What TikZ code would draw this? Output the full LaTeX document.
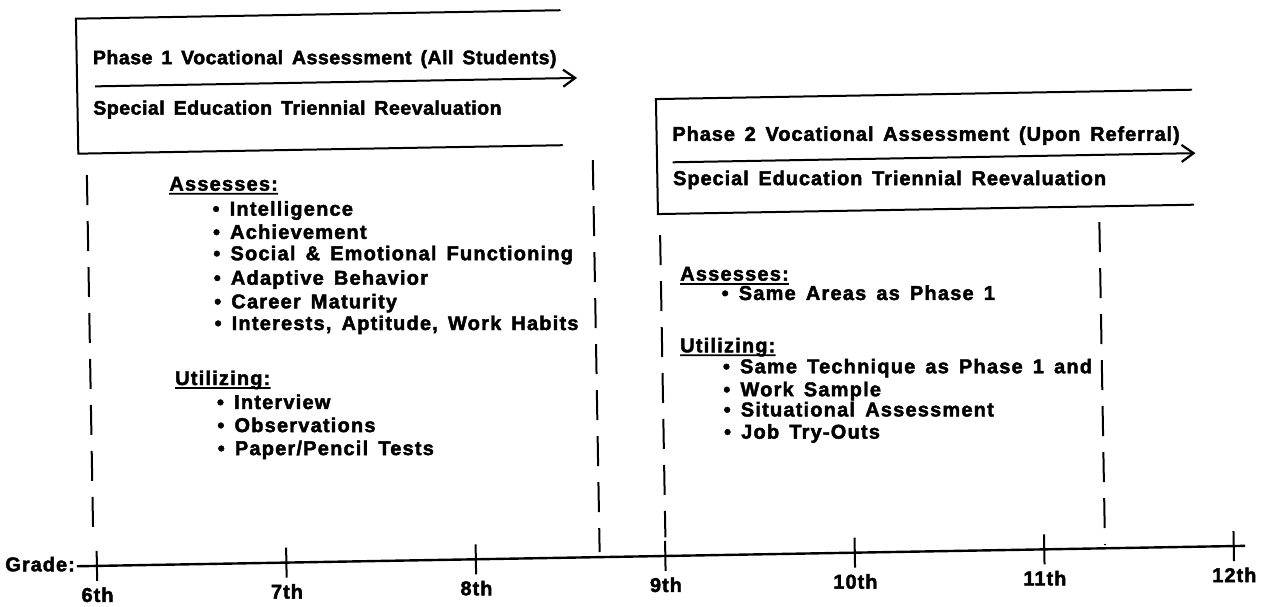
\documentclass[tikz,border=0pt]{standalone}
\usepackage{fontspec}
\setmainfont{Liberation Sans}
\newfontfamily\hdAfont{Liberation Sans Bold}[LetterSpace=2.7,WordSpace=1.5,FakeBold=2.2]
\newfontfamily\hdBfont{Liberation Sans Bold}[LetterSpace=4.6,WordSpace=1.5,FakeBold=2.2]
\newfontfamily\lstfont{Liberation Sans Bold}[LetterSpace=6,WordSpace=1.5,FakeBold=2.2]
\newfontfamily\grdfont{Liberation Sans Bold}[LetterSpace=5,FakeBold=2.2]
\usetikzlibrary{arrows.meta,calc}
\begin{document}
\begin{tikzpicture}[x=1pt,y=-1pt,
  boxline/.style={line width=2pt, line cap=round, line join=miter},
  dashline/.style={line width=2pt, dash pattern=on 30pt off 16pt},
  phasearrow/.style={line width=2pt, -{Straight Barb[length=12pt,width=17pt,line width=2.2pt]}},
  axisline/.style={line width=2.4pt},
  tickline/.style={line width=2pt},
  ulline/.style={line width=1.8pt},
  hdA/.style={anchor=base west, inner sep=0pt, text height=14pt, text depth=4pt, font={\hdAfont\fontsize{19.5}{23}\selectfont}},
  hdB/.style={anchor=base west, inner sep=0pt, text height=14pt, text depth=4pt, font={\hdBfont\fontsize{20}{24}\selectfont}},
  lst/.style={anchor=base west, inner sep=0pt, text height=14pt, text depth=4pt, font={\lstfont\fontsize{20}{23}\selectfont}},
  grd/.style={anchor=base, inner sep=0pt, text height=14pt, text depth=4pt, font={\grdfont\fontsize{20}{23}\selectfont}}
]
\useasboundingbox (0,0) rectangle (1266,606);
\fill[white] (0,0) rectangle (1266,606);
\begin{scope}[rotate around={1:(633,303)}]
  % ---------- Phase 1 box ----------
  \coordinate (b1tr) at (565,9);
  \coordinate (b1tl) at (81,9);
  \coordinate (b1bl) at (81,144);
  \coordinate (b1br) at (565,144);
  \draw[boxline] (b1tr) -- (b1tl) -- (b1bl) -- (b1br);
  \node[hdA] (p1title) at (97,54.8) {Phase 1 Vocational Assessment (All Students)};
  \coordinate (a1s) at (99,77);
  \coordinate (a1e) at (581,77);
  \draw[phasearrow] (a1s) -- (a1e);
  \node[hdA] (p1sub) at (96.5,105.2) {Special Education Triennial Reevaluation};

  % ---------- Phase 2 box ----------
  \coordinate (b2tr) at (1195,99.5);
  \coordinate (b2tl) at (659.5,99.5);
  \coordinate (b2bl) at (659.5,214.5);
  \coordinate (b2br) at (1195,214.5);
  \draw[boxline] (b2tr) -- (b2tl) -- (b2bl) -- (b2br);
  \node[hdB] (p2title) at (675,141.5) {Phase 2 Vocational Assessment (Upon Referral)};
  \coordinate (a2s) at (675,163);
  \coordinate (a2e) at (1198,163);
  \draw[phasearrow] (a2s) -- (a2e);
  \node[hdB] (p2sub) at (675,185.8) {Special Education Triennial Reevaluation};

  % ---------- dashed boundaries ----------
  \coordinate (d1t) at (89.2,165.5);   \coordinate (d1b) at (89.2,517.5);
  \coordinate (d2t) at (595.3,159.4);  \coordinate (d2b) at (595.3,551.4);
  \coordinate (d3t) at (661.3,235.5);  \coordinate (d3b) at (661.3,538);
  \coordinate (d4t) at (1100.7,230.2); \coordinate (d4b) at (1100.7,553.2);
  \draw[dashline] (d1t) -- (d1b);
  \draw[dashline] (d2t) -- (d2b);
  \draw[dashline] (d3t) -- (d3b);
  \draw[dashline] (d4t) -- (d4b);

  % ---------- Phase 1 lists ----------
  \node[lst] (as1) at (171.2,182.6) {Assesses:};
  \draw[ulline] ([yshift=-3pt]as1.base west) -- ([yshift=-3pt]as1.base east);
  \node[lst] (pa0) at (214,208.3) {\textbullet\ Intelligence};
  \node[lst] (pa1) at (214,231.5) {\textbullet\ Achievement};
  \node[lst] (pa2) at (214,252.9) {\textbullet\ Social \& Emotional Functioning};
  \node[lst] (pa3) at (214,277.4) {\textbullet\ Adaptive Behavior};
  \node[lst] (pa4) at (214,301.0) {\textbullet\ Career Maturity};
  \node[lst] (pa5) at (214,322.7) {\textbullet\ Interests, Aptitude, Work Habits};
  \node[lst] (ut1) at (173.6,377) {Utilizing:};
  \draw[ulline] ([yshift=-3pt]ut1.base west) -- ([yshift=-3pt]ut1.base east);
  \node[lst] (pu0) at (215,401.7) {\textbullet\ Interview};
  \node[lst] (pu1) at (215,424.8) {\textbullet\ Observations};
  \node[lst] (pu2) at (215,447.8) {\textbullet\ Paper/Pencil Tests};

  % ---------- Phase 2 lists ----------
  \node[lst] (as2) at (680.4,281.5) {Assesses:};
  \draw[ulline] ([yshift=-3pt]as2.base west) -- ([yshift=-3pt]as2.base east);
  \node[lst] (qa0) at (721.5,301.5) {\textbullet\ Same Areas as Phase 1};
  \node[lst] (ut2) at (679.1,353.1) {Utilizing:};
  \draw[ulline] ([yshift=-3pt]ut2.base west) -- ([yshift=-3pt]ut2.base east);
  \node[lst] (qu0) at (721.5,374.8) {\textbullet\ Same Technique as Phase 1 and};
  \node[lst] (qu1) at (721.5,397.8) {\textbullet\ Work Sample};
  \node[lst] (qu2) at (721.5,418.0) {\textbullet\ Situational Assessment};
  \node[lst] (qu3) at (721.5,440.2) {\textbullet\ Job Try-Outs};

  % ---------- Grade axis ----------
  \node[grd, anchor=base east] (grade) at (70.4,561.5) {Grade:};
  \coordinate (axs) at (72.4,556.5);
  \coordinate (axe) at (1240.7,556.5);
  \draw[axisline] (axs) -- (axe);
  \foreach \g [count=\i from 0] in {6,7,8,9,10,11,12} {
    \coordinate (t\g) at (92.4+189.5*\i,556.5);
    \draw[tickline] ($(t\g)+(0,-15)$) -- ($(t\g)+(0,15)$);
    \node[grd] (l\g) at ($(t\g)+(0,36)$) {\g th};
  }
\end{scope}
\end{tikzpicture}
\end{document}
